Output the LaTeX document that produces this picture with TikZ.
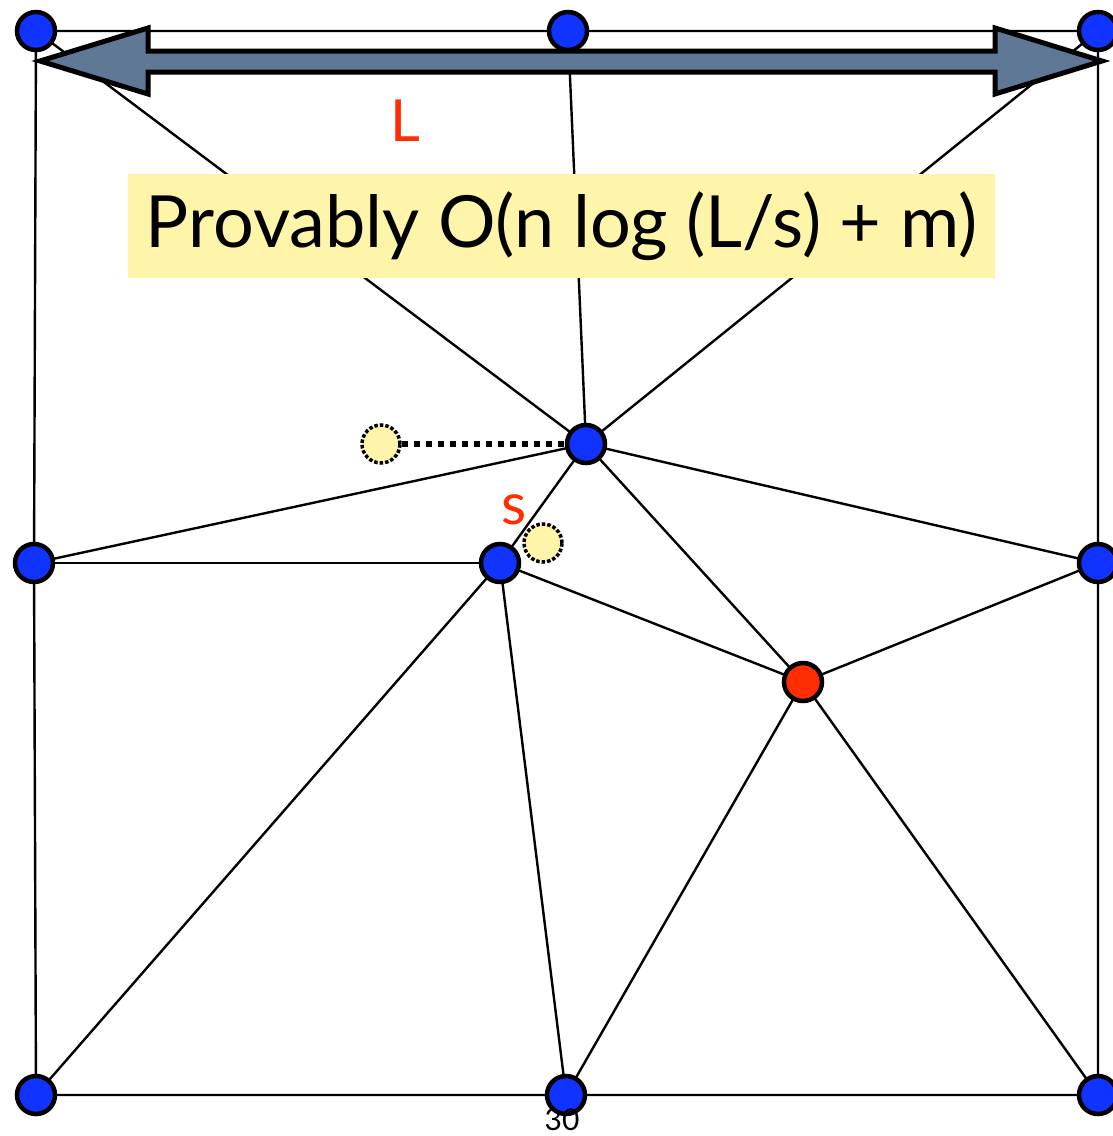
\documentclass[tikz,border=0pt]{standalone}
\usepackage{fontspec}
\setmainfont{Lato}
\begin{document}
\begin{tikzpicture}[x=1pt,y=-1pt,
  edge/.style={draw=black,line width=2.4pt},
  vtx/.style={circle,draw=black,line width=4.5pt,fill=vblue,minimum size=38pt,inner sep=0pt},
  rvtx/.style={vtx,fill=vred},
  ghost/.style={circle,draw=black,line width=3.5pt,dotted,fill=pale,minimum size=38pt,inner sep=0pt},
  lbl/.style={text=lred,font=\fontsize{58}{58}\selectfont,inner sep=0pt}]
\definecolor{vblue}{RGB}{17,51,255}
\definecolor{vred}{RGB}{255,45,0}
\definecolor{pale}{RGB}{255,245,170}
\definecolor{lred}{RGB}{255,45,0}
\definecolor{slate}{RGB}{95,120,150}
\useasboundingbox (0,0) rectangle (1113,1136);
\clip (0,0) rectangle (1113,1136);
\coordinate (tl) at (36,31);
\coordinate (tm) at (568,31);
\coordinate (tr) at (1098,31);
\coordinate (lm) at (34,563);
\coordinate (m) at (500,563);
\coordinate (rm) at (1098,563);
\coordinate (c) at (586,444);
\coordinate (r) at (803,682);
\coordinate (bl) at (36,1095);
\coordinate (bm) at (566,1095);
\coordinate (br) at (1098,1095);
% edges
\draw[edge] (tl) -- (tm) -- (tr) -- (rm) -- (br) -- (bm) -- (bl) -- (lm) -- cycle;
\foreach \a/\b in {tl/c,tm/c,tr/c,c/lm,c/m,c/rm,c/r,lm/m,m/bl,m/bm,m/r,r/rm,r/bm,r/br}
  \draw[edge] (\a) -- (\b);
% text box
\node[fill=pale,minimum width=867pt,minimum height=104pt,inner sep=0pt,
  font=\fontsize{72}{72}\selectfont] (box) at (561.5,226) {Provably O(n log (L/s) + m)};
% double arrow
\draw[line width=5pt,fill=slate,line join=miter]
  (40,61) -- (148,28) -- (148,51) -- (995,51) -- (995,28) -- (1102,61)
  -- (995,94) -- (995,72) -- (148,72) -- (148,94) -- cycle;
\node[lbl] (L) at (405,121) {L};
% ghosts
\node[ghost] (g1) at (381,444) {};
\node[ghost] (g2) at (543,543) {};
% vertices
\foreach \n in {tl,tm,tr,lm,m,rm,c,bl,bm,br}
  \node[vtx] (v\n) at (\n) {};
\node[rvtx] (vr) at (r) {};
\draw[line width=6pt,dash pattern=on 6pt off 6pt] (g1.east) -- (vc.west);
\node[lbl] (s) at (514,510) {s};
\node[font=\fontsize{30}{30}\selectfont,inner sep=0pt] (pg) at (562,1120) {30};
\end{tikzpicture}
\end{document}
